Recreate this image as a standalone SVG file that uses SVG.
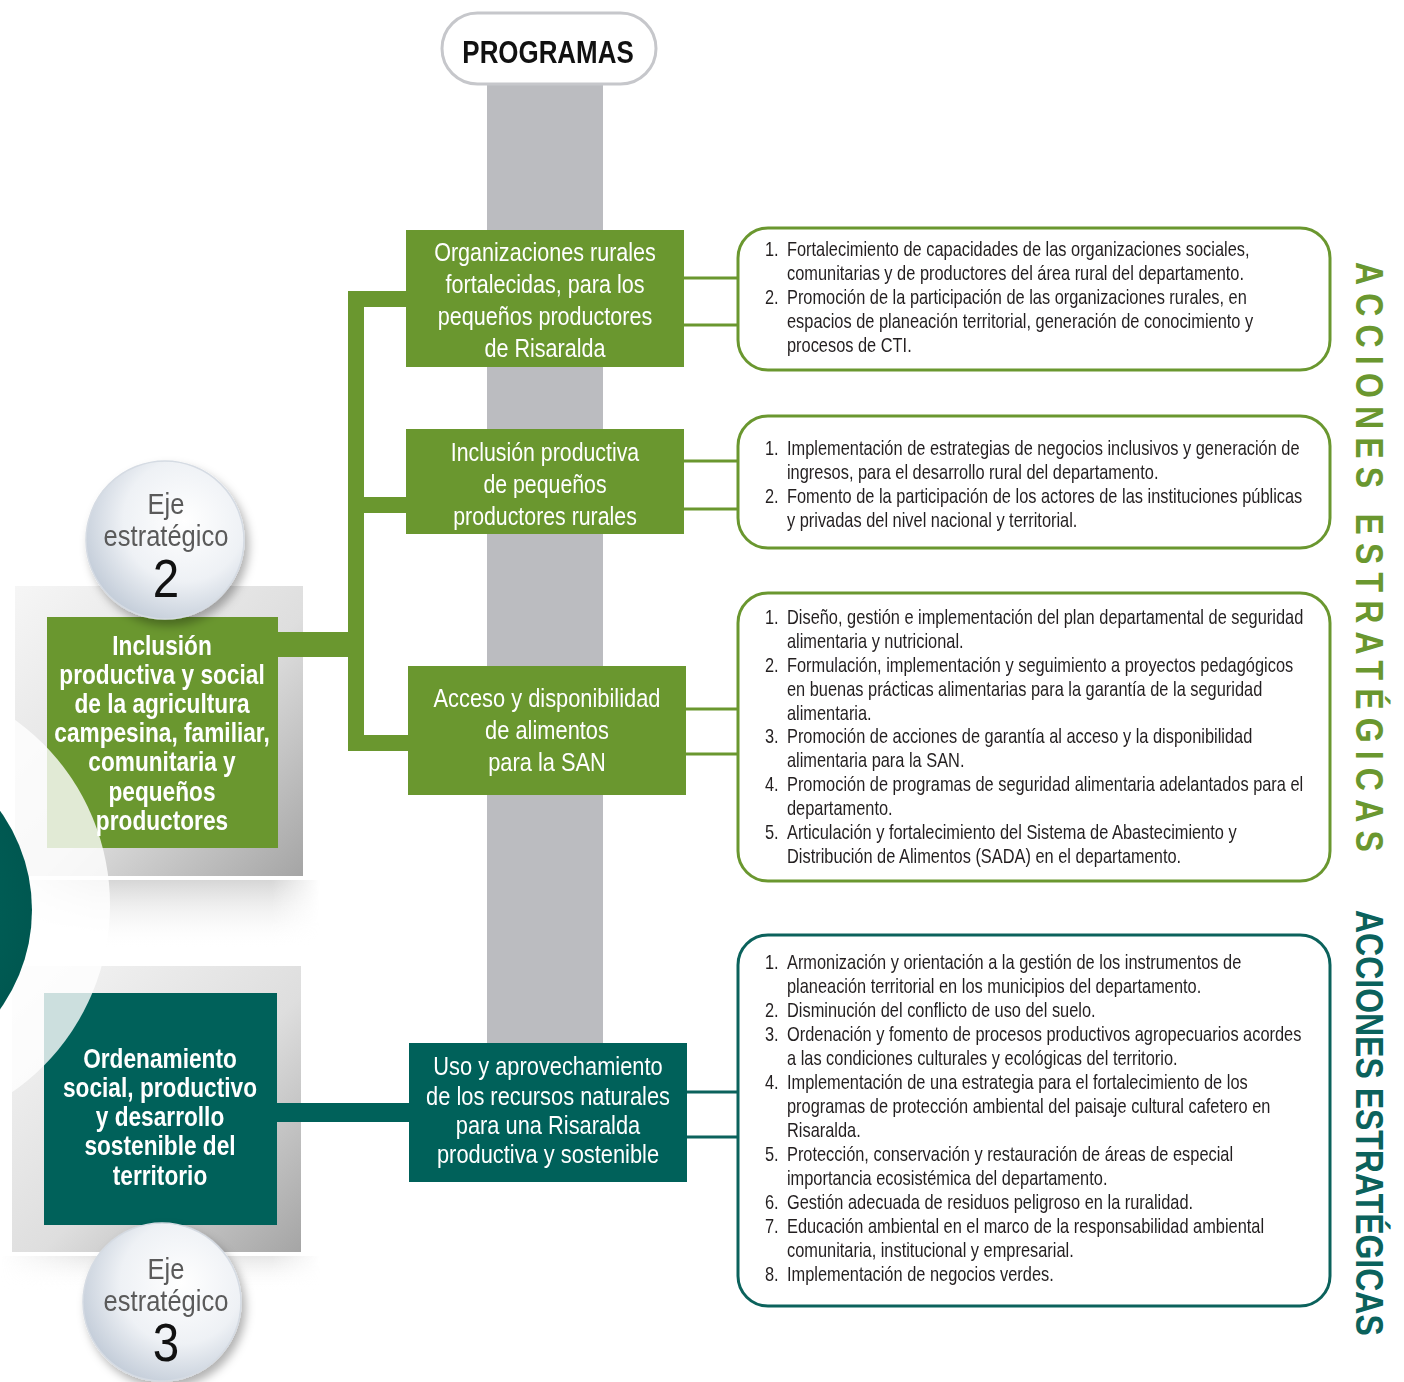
<svg xmlns="http://www.w3.org/2000/svg" width="1404" height="1382" viewBox="0 0 1404 1382">
<defs>
<linearGradient id="frameG" x1="0" y1="0" x2="1" y2="1">
<stop offset="0" stop-color="#f6f6f6"/>
<stop offset="0.55" stop-color="#dedede"/>
<stop offset="1" stop-color="#a4a4a4"/>
</linearGradient>
<linearGradient id="shadowG" x1="0" y1="0" x2="0" y2="1">
<stop offset="0" stop-color="#b4b4b4" stop-opacity="0.55"/>
<stop offset="1" stop-color="#ffffff" stop-opacity="0"/>
</linearGradient>
<linearGradient id="shadowH" x1="0" y1="0" x2="1" y2="0">
<stop offset="0" stop-color="#fff" stop-opacity="0"/>
<stop offset="0.3" stop-color="#fff" stop-opacity="1"/>
<stop offset="0.85" stop-color="#fff" stop-opacity="1"/>
<stop offset="1" stop-color="#fff" stop-opacity="0"/>
</linearGradient>
<mask id="fadeH"><rect x="0" y="0" width="320" height="1382" fill="url(#shadowH)"/></mask>
<radialGradient id="circG" cx="0.62" cy="0.38" r="0.7">
<stop offset="0" stop-color="#ffffff"/>
<stop offset="0.55" stop-color="#eef1f5"/>
<stop offset="1" stop-color="#bfc9d6"/>
</radialGradient>
<radialGradient id="tealC" cx="0.55" cy="0.5" r="0.55">
<stop offset="0" stop-color="#006a60"/>
<stop offset="0.85" stop-color="#005750"/>
<stop offset="1" stop-color="#00423c"/>
</radialGradient>
<filter id="ds" x="-30%" y="-30%" width="170%" height="170%">
<feDropShadow dx="4" dy="6" stdDeviation="5" flood-color="#000" flood-opacity="0.3"/>
</filter>
<style>
.gbox{fill:#6a972f}
.tbox{fill:#00615a}
.pt{font-family:"Liberation Sans",Arial,sans-serif;font-size:26px;fill:#fff;text-anchor:middle}
.lt{font-family:"Liberation Sans",Arial,sans-serif;font-weight:bold;font-size:27px;fill:#fff;text-anchor:middle}
.rt{font-family:"Liberation Sans",Arial,sans-serif;font-size:20px;fill:#231f20}
.rbg{fill:#fff;stroke:#6a972f;stroke-width:3}
.rbt{fill:#fff;stroke:#0b625c;stroke-width:3}
.cg{stroke:#6a972f;stroke-width:3;fill:none}
.ct{stroke:#0b625c;stroke-width:3;fill:none}
.frame{fill:url(#frameG);stroke:#ffffff;stroke-width:4}
.circ{fill:url(#circG);stroke:#d5dbe3;stroke-width:1.5;filter:url(#ds)}
.ce{font-family:"Liberation Sans",Arial,sans-serif;font-size:29px;fill:#5a5a5a;text-anchor:middle}
.cn{font-family:"Liberation Sans",Arial,sans-serif;font-size:54px;fill:#111;text-anchor:middle}
.vt{font-family:"Liberation Sans",Arial,sans-serif;font-weight:bold;font-size:39px}
</style>
</defs>
<rect width="1404" height="1382" fill="#ffffff"/>

<!-- left background frames -->
<g id="frames">
<g mask="url(#fadeH)">
<rect x="0" y="880" width="320" height="70" fill="url(#shadowG)"/>
<rect x="0" y="1256" width="320" height="35" fill="url(#shadowG)" opacity="0.6"/>
</g>
<rect x="13" y="584" width="292" height="294" class="frame"/>
<rect x="10" y="964" width="293" height="290" class="frame"/>
</g>

<!-- gray spine -->
<rect id="spine" x="487" y="80" width="116" height="963" fill="#bbbcc0"/>

<!-- connectors -->
<g id="connectors">
<rect x="348" y="291" width="16" height="460" class="gbox"/>
<rect x="348" y="291" width="58" height="16" class="gbox"/>
<rect x="348" y="497" width="58" height="16" class="gbox"/>
<rect x="348" y="735" width="60" height="16" class="gbox"/>
<rect x="278" y="632" width="70" height="25" class="gbox"/>
<rect x="277" y="1103" width="132" height="19" class="tbox"/>
<line x1="684" y1="278" x2="738" y2="278" class="cg"/>
<line x1="684" y1="325" x2="738" y2="325" class="cg"/>
<line x1="684" y1="461" x2="738" y2="461" class="cg"/>
<line x1="684" y1="509" x2="738" y2="509" class="cg"/>
<line x1="686" y1="709" x2="738" y2="709" class="cg"/>
<line x1="686" y1="754" x2="738" y2="754" class="cg"/>
<line x1="687" y1="1092" x2="738" y2="1092" class="ct"/>
<line x1="687" y1="1137" x2="738" y2="1137" class="ct"/>
</g>

<!-- PROGRAMAS header -->
<g id="programas">
<rect x="442" y="13" width="214" height="71" rx="35.5" fill="#fff" stroke="#c6c7cb" stroke-width="3"/>
<text transform="translate(548,63) scale(0.81,1)" text-anchor="middle" font-family="Liberation Sans, Arial, sans-serif" font-weight="bold" font-size="32" fill="#111">PROGRAMAS</text>
</g>

<!-- left axis boxes -->
<g id="eje2-box">
<rect x="47" y="617" width="231" height="231" class="gbox"/>
</g>
<g id="eje3-box">
<rect x="44" y="993" width="233" height="232" class="tbox"/>
</g>

<!-- decorative circles -->
<g id="deco">
<circle cx="-118" cy="905" r="228" fill="#ffffff" fill-opacity="0.8"/>
<circle cx="-138" cy="910" r="170" fill="url(#tealC)"/>
</g>

<g id="eje2-text">
<g transform="translate(162,0) scale(0.84,1)">
<text class="lt" x="0" y="655">Inclusión</text>
<text class="lt" x="0" y="684">productiva y social</text>
<text class="lt" x="0" y="713">de la agricultura</text>
<text class="lt" x="0" y="742">campesina, familiar,</text>
<text class="lt" x="0" y="771">comunitaria y</text>
<text class="lt" x="0" y="801">pequeños</text>
<text class="lt" x="0" y="830">productores</text>
</g>
</g>
<g id="eje3-text">
<g transform="translate(160,0) scale(0.84,1)">
<text class="lt" x="0" y="1068" font-size="29">Ordenamiento</text>
<text class="lt" x="0" y="1097" font-size="29">social, productivo</text>
<text class="lt" x="0" y="1126" font-size="29">y desarrollo</text>
<text class="lt" x="0" y="1155" font-size="29">sostenible del</text>
<text class="lt" x="0" y="1185" font-size="29">territorio</text>
</g>
</g>

<!-- eje circles -->
<g id="eje2-circle">
<circle cx="165" cy="540" r="79" class="circ"/>
<g transform="translate(166,0) scale(0.88,1)">
<text class="ce" x="0" y="514">Eje</text>
<text class="ce" x="0" y="546">estratégico</text>
<text class="cn" x="0" y="597">2</text>
</g>
</g>
<g id="eje3-circle">
<circle cx="162" cy="1302" r="79" class="circ"/>
<g transform="translate(166,0) scale(0.88,1)">
<text class="ce" x="0" y="1279">Eje</text>
<text class="ce" x="0" y="1311">estratégico</text>
<text class="cn" x="0" y="1361">3</text>
</g>
</g>

<!-- program boxes -->
<g id="prog1">
<rect x="406" y="230" width="278" height="137" class="gbox"/>
<g transform="translate(545,0) scale(0.83,1)">
<text class="pt" x="0" y="261">Organizaciones rurales</text>
<text class="pt" x="0" y="293">fortalecidas, para los</text>
<text class="pt" x="0" y="325">pequeños productores</text>
<text class="pt" x="0" y="357">de Risaralda</text>
</g>
</g>
<g id="prog2">
<rect x="406" y="429" width="278" height="105" class="gbox"/>
<g transform="translate(545,0) scale(0.82,1)">
<text class="pt" x="0" y="461">Inclusión productiva</text>
<text class="pt" x="0" y="493">de pequeños</text>
<text class="pt" x="0" y="525">productores rurales</text>
</g>
</g>
<g id="prog3">
<rect x="408" y="666" width="278" height="129" class="gbox"/>
<g transform="translate(547,0) scale(0.84,1)">
<text class="pt" x="0" y="707">Acceso y disponibilidad</text>
<text class="pt" x="0" y="739">de alimentos</text>
<text class="pt" x="0" y="771">para la SAN</text>
</g>
</g>
<g id="prog4">
<rect x="409" y="1043" width="278" height="139" class="tbox"/>
<g transform="translate(548,0) scale(0.84,1)">
<text class="pt" x="0" y="1075">Uso y aprovechamiento</text>
<text class="pt" x="0" y="1105">de los recursos naturales</text>
<text class="pt" x="0" y="1134">para una Risaralda</text>
<text class="pt" x="0" y="1163">productiva y sostenible</text>
</g>
</g>

<!-- action boxes -->
<g id="acc1">
<rect x="738" y="228" width="592" height="142" rx="30" class="rbg"/>
<g transform="translate(765,0) scale(0.82,1)">
<text class="rt" x="0" y="256">1.</text><text class="rt" x="26.8" y="256">Fortalecimiento de capacidades de las organizaciones sociales,</text>
<text class="rt" x="26.8" y="280">comunitarias y de productores del área rural del departamento.</text>
<text class="rt" x="0" y="304">2.</text><text class="rt" x="26.8" y="304">Promoción de la participación de las organizaciones rurales, en</text>
<text class="rt" x="26.8" y="328">espacios de planeación territorial, generación de conocimiento y</text>
<text class="rt" x="26.8" y="352">procesos de CTI.</text>
</g>
</g>
<g id="acc2">
<rect x="738" y="416" width="592" height="132" rx="30" class="rbg"/>
<g transform="translate(765,0) scale(0.82,1)">
<text class="rt" x="0" y="455">1.</text><text class="rt" x="26.8" y="455">Implementación de estrategias de negocios inclusivos y generación de</text>
<text class="rt" x="26.8" y="479">ingresos, para el desarrollo rural del departamento.</text>
<text class="rt" x="0" y="503">2.</text><text class="rt" x="26.8" y="503">Fomento de la participación de los actores de las instituciones públicas</text>
<text class="rt" x="26.8" y="527">y privadas del nivel nacional y territorial.</text>
</g>
</g>
<g id="acc3">
<rect x="738" y="593" width="592" height="288" rx="30" class="rbg"/>
<g transform="translate(765,0) scale(0.82,1)">
<text class="rt" x="0" y="624">1.</text><text class="rt" x="26.8" y="624">Diseño, gestión e implementación del plan departamental de seguridad</text>
<text class="rt" x="26.8" y="648">alimentaria y nutricional.</text>
<text class="rt" x="0" y="672">2.</text><text class="rt" x="26.8" y="672">Formulación, implementación y seguimiento a proyectos pedagógicos</text>
<text class="rt" x="26.8" y="696">en buenas prácticas alimentarias para la garantía de la seguridad</text>
<text class="rt" x="26.8" y="720">alimentaria.</text>
<text class="rt" x="0" y="743">3.</text><text class="rt" x="26.8" y="743">Promoción de acciones de garantía al acceso y la disponibilidad</text>
<text class="rt" x="26.8" y="767">alimentaria para la SAN.</text>
<text class="rt" x="0" y="791">4.</text><text class="rt" x="26.8" y="791">Promoción de programas de seguridad alimentaria adelantados para el</text>
<text class="rt" x="26.8" y="815">departamento.</text>
<text class="rt" x="0" y="839">5.</text><text class="rt" x="26.8" y="839">Articulación y fortalecimiento del Sistema de Abastecimiento y</text>
<text class="rt" x="26.8" y="863">Distribución de Alimentos (SADA) en el departamento.</text>
</g>
</g>
<g id="acc4">
<rect x="738" y="935" width="592" height="371" rx="30" class="rbt"/>
<g transform="translate(765,0) scale(0.82,1)">
<text class="rt" x="0" y="969">1.</text><text class="rt" x="26.8" y="969">Armonización y orientación a la gestión de los instrumentos de</text>
<text class="rt" x="26.8" y="993">planeación territorial en los municipios del departamento.</text>
<text class="rt" x="0" y="1017">2.</text><text class="rt" x="26.8" y="1017">Disminución del conflicto de uso del suelo.</text>
<text class="rt" x="0" y="1041">3.</text><text class="rt" x="26.8" y="1041">Ordenación y fomento de procesos productivos agropecuarios acordes</text>
<text class="rt" x="26.8" y="1065">a las condiciones culturales y ecológicas del territorio.</text>
<text class="rt" x="0" y="1089">4.</text><text class="rt" x="26.8" y="1089">Implementación de una estrategia para el fortalecimiento de los</text>
<text class="rt" x="26.8" y="1113">programas de protección ambiental del paisaje cultural cafetero en</text>
<text class="rt" x="26.8" y="1137">Risaralda.</text>
<text class="rt" x="0" y="1161">5.</text><text class="rt" x="26.8" y="1161">Protección, conservación y restauración de áreas de especial</text>
<text class="rt" x="26.8" y="1185">importancia ecosistémica del departamento.</text>
<text class="rt" x="0" y="1209">6.</text><text class="rt" x="26.8" y="1209">Gestión adecuada de residuos peligroso en la ruralidad.</text>
<text class="rt" x="0" y="1233">7.</text><text class="rt" x="26.8" y="1233">Educación ambiental en el marco de la responsabilidad ambiental</text>
<text class="rt" x="26.8" y="1257">comunitaria, institucional y empresarial.</text>
<text class="rt" x="0" y="1281">8.</text><text class="rt" x="26.8" y="1281">Implementación de negocios verdes.</text>
</g>
</g>

<!-- vertical labels -->
<g id="label-green">
<text class="vt" fill="#6a972f" letter-spacing="10" transform="translate(1356,262) rotate(90) scale(0.82,1)">ACCIONES ESTRATÉGICAS</text>
</g>
<g id="label-teal">
<text class="vt" fill="#0b625c" transform="translate(1356,910) rotate(90) scale(0.82,1)">ACCIONES ESTRATÉGICAS</text>
</g>
</svg>
